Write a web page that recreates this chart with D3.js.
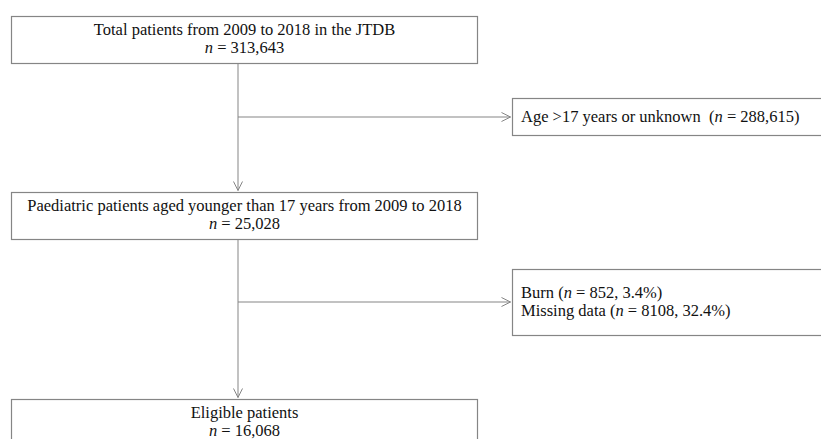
<!DOCTYPE html>
<html>
<head>
<meta charset="utf-8">
<script src="https://cdn.jsdelivr.net/npm/d3@7"></script>
<style>
  body { margin: 0; background: #fff; }
  text { font-family: "Liberation Serif", "DejaVu Serif", serif; fill: #111; white-space: pre; }
</style>
</head>
<body>
<div id="flow"></div>
<script>
// Flow steps (main column)
const stepLabels = [
    "Total patients from 2009 to 2018 in the JTDB",
    "Paediatric patients aged younger than 17 years from 2009 to 2018",
    "Eligible patients"
];
const stepCounts = ["313,643", "25,028", "16,068"];

// Exclusions (one box per step transition, each with one or more lines)
const exclusionLines = [
    [{pre: "Age >17 years or unknown  (", n: "288,615", post: ")"}],
    [{pre: "Burn (", n: "852", post: ", 3.4%)"},
     {pre: "Missing data (", n: "8108", post: ", 32.4%)"}]
];

// Layout
const width = 821, height = 439;
const fontSize = 16.5, lineH = 18;
const mainX = 11, mainW = 466, spineX = 238;
const stepTop = [16, 192, 399], stepH = 47;
const exX = 512, exW = 320;
const exTop = [98, 269], exH = [37, 66], exArrowY = [117, 302];
const lineColor = "#858585";

const svg = d3.select("#flow")
    .append("svg")
    .attr("width", width)
    .attr("height", height);

// Arrow marker (open chevron)
svg.append("defs").append("marker")
    .attr("id", "arrow")
    .attr("viewBox", "0 0 10 10")
    .attr("refX", 10).attr("refY", 5)
    .attr("markerWidth", 10).attr("markerHeight", 10)
    .attr("markerUnits", "userSpaceOnUse")
    .attr("orient", "auto")
    .append("path")
    .attr("d", "M1,0.5 L10,5 L1,9.5")
    .attr("fill", "none")
    .attr("stroke", lineColor)
    .attr("stroke-width", 1);

// Vertical arrows between steps
d3.range(stepLabels.length - 1).forEach(i => {
    svg.append("line")
        .attr("x1", spineX).attr("x2", spineX)
        .attr("y1", stepTop[i] + stepH)
        .attr("y2", stepTop[i + 1] - 1.5)
        .attr("stroke", lineColor)
        .attr("stroke-width", 1)
        .attr("marker-end", "url(#arrow)");
});

// Horizontal arrows to exclusion boxes
exclusionLines.forEach((lines, i) => {
    svg.append("line")
        .attr("x1", spineX).attr("x2", exX - 1.5)
        .attr("y1", exArrowY[i]).attr("y2", exArrowY[i])
        .attr("stroke", lineColor)
        .attr("stroke-width", 1)
        .attr("marker-end", "url(#arrow)");
});

// Main step boxes
const steps = svg.selectAll(".step")
    .data(stepLabels)
    .join("g")
    .attr("class", "step")
    .attr("transform", (d, i) => `translate(${mainX},${stepTop[i]})`);

steps.append("rect")
    .attr("x", 0.5).attr("y", 0.5)
    .attr("width", mainW).attr("height", stepH)
    .attr("fill", "#fff")
    .attr("stroke", lineColor)
    .attr("stroke-width", 1.2);

steps.append("text")
    .attr("x", mainW / 2 + 0.5)
    .attr("y", 19)
    .attr("text-anchor", "middle")
    .style("font-size", fontSize + "px")
    .text(d => d);

const countText = steps.append("text")
    .attr("x", mainW / 2 + 0.5)
    .attr("y", 19 + lineH)
    .attr("text-anchor", "middle")
    .style("font-size", fontSize + "px");
countText.append("tspan").style("font-style", "italic").text("n");
countText.append("tspan").text((d, i) => " = " + stepCounts[i]);

// Exclusion boxes
const excl = svg.selectAll(".excl")
    .data(exclusionLines)
    .join("g")
    .attr("class", "excl")
    .attr("transform", (d, i) => `translate(${exX},${exTop[i]})`);

excl.append("rect")
    .attr("x", 0.5).attr("y", 0.5)
    .attr("width", exW)
    .attr("height", (d, i) => exH[i])
    .attr("fill", "#fff")
    .attr("stroke", lineColor)
    .attr("stroke-width", 1.2);

excl.each(function(lines, i) {
    const g = d3.select(this);
    const firstY = exArrowY[i] - exTop[i] + 5 - (lines.length - 1) * lineH / 2;
    lines.forEach((ln, j) => {
        const t = g.append("text")
            .attr("x", 9)
            .attr("y", firstY + j * lineH)
            .style("font-size", fontSize + "px");
        t.append("tspan").text(ln.pre);
        t.append("tspan").style("font-style", "italic").text("n");
        t.append("tspan").text(" = " + ln.n + ln.post);
    });
});
</script>
</body>
</html>
